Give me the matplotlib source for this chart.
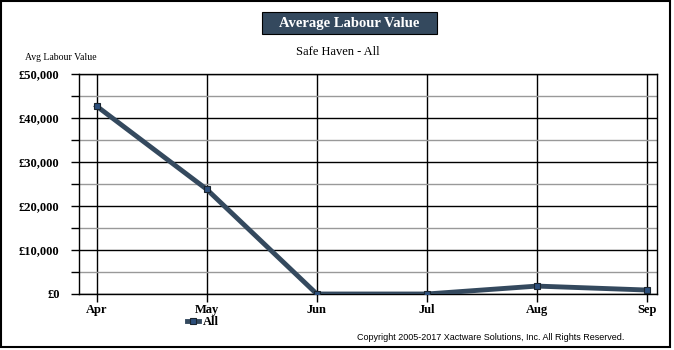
import matplotlib.pyplot as plt
from matplotlib.patches import Rectangle

months = ["Apr", "May", "Jun", "Jul", "Aug", "Sep"]
values = [42700, 23800, 0, 0, 1800, 900]
yticks = [0, 10000, 20000, 30000, 40000, 50000]
ytick_labels = ["£0", "£10,000", "£20,000", "£30,000", "£40,000", "£50,000"]

serif = "Liberation Serif"
W, H = 674, 350
fig = plt.figure(figsize=(W / 100, H / 100), dpi=100)
ax = fig.add_axes([79 / W, 1 - 294 / H, (657 - 79) / W, (294 - 74) / H])

x = list(range(len(months)))
ax.plot(x, values, color="#34495e", linewidth=3.5, marker="s", markersize=5,
        markerfacecolor="#2c4f7c", markeredgecolor="#1a2530", markeredgewidth=0.8,
        label="All", zorder=3)

ax.set_xlim(-0.16, 5.09)
ax.set_ylim(0, 50000)
ax.set_yticks(yticks)
ax.set_yticklabels(ytick_labels, fontfamily=serif, fontweight="bold", fontsize=9)
ax.set_yticks([5000, 15000, 25000, 35000, 45000], minor=True)
ax.set_xticks(x)
ax.set_xticklabels(months, fontfamily=serif, fontweight="bold", fontsize=9)
ax.tick_params(axis="y", which="both", direction="out", length=6, width=1, pad=8)
ax.tick_params(axis="x", direction="out", length=6, width=1, pad=1)
ax.grid(axis="y", which="minor", color="#999999", linewidth=1)
ax.grid(axis="y", which="major", color="black", linewidth=1)
ax.grid(axis="x", which="major", color="black", linewidth=1)
ax.set_axisbelow(True)
for s in ax.spines.values():
    s.set_linewidth(1)

# title box
fig.patches.append(Rectangle((262 / W, 1 - 34 / H), 175 / W, 22 / H,
                             transform=fig.transFigure, facecolor="#34495e",
                             edgecolor="black", linewidth=0.8))
fig.text(349 / W, 1 - 23 / H, "Average Labour Value", ha="center", va="center",
         color="white", fontfamily=serif, fontweight="bold", fontsize=10.5)
fig.text(338 / W, 1 - 52 / H, "Safe Haven - All", ha="center", va="center",
         fontfamily=serif, fontsize=9)
fig.text(25 / W, 1 - 57 / H, "Avg Labour Value", ha="left", va="center",
         fontfamily=serif, fontsize=7)

leg = fig.legend(loc="center left", bbox_to_anchor=(187 / W, 1 - 322 / H), frameon=False,
                 prop={"family": serif, "weight": "bold", "size": 9},
                 handlelength=1.0, handletextpad=0.3, borderpad=0, borderaxespad=0)
fig.text(357 / W, 1 - 337 / H, "Copyright 2005-2017 Xactware Solutions, Inc. All Rights Reserved.",
         ha="left", va="center", fontfamily="Liberation Sans", fontsize=6.5)

# outer border
fig.patches.append(Rectangle((1 / W, 3 / H), 669 / W, 346 / H, transform=fig.transFigure,
                             facecolor="none", edgecolor="black", linewidth=1.5))

fig.savefig("out.png", dpi=100)
